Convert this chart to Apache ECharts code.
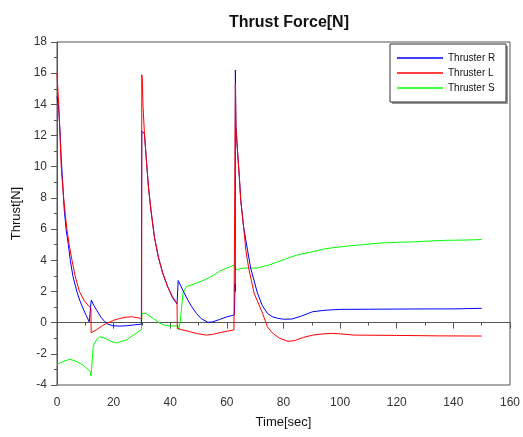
<!DOCTYPE html>
<html>
<head>
<meta charset="utf-8">
<script src="https://cdn.jsdelivr.net/npm/echarts@6/dist/echarts.min.js"></script>
<style>
  html, body { margin: 0; padding: 0; background: #fff; }
  #main { width: 523px; height: 437px; }
</style>
</head>
<body>
<div id="main"></div>
<script>
// time [sec] / thrust [N] samples
var tR = [0, 0.5, 1.1, 1.5, 2, 2.5, 3.2, 4, 4.7, 5.6, 7, 8, 9, 10.2, 11.4, 11.8, 12.1, 13, 14, 15.5, 16.9, 18, 19.8, 22, 24.6, 27, 29.8, 29.9,
          29.95, 30.9, 31.5, 32.3, 33.2, 34.4, 35.8, 37.3, 39.1, 40.8, 42.4, 42.6, 42.8, 44.4, 46.2, 47.5, 49.2, 51, 53.3, 55, 57.4, 60, 62.7, 62.8, 62.85, 62.95,
          63, 63.2, 63.8, 64.4, 64.9, 65.9, 67.3, 68.4, 70.8, 72.5, 74.3, 76, 77.9, 80, 82.9, 86, 90.3, 95, 100, 110, 120, 130, 140, 145, 150];
var fR = [14.5, 14, 12.2, 10.5, 9, 7.4, 6, 5, 4, 3, 2, 1.45, 1, 0.5, 0.05, 0, 1.45, 1.1, 0.8, 0.35, 0.06, -0.1, -0.2, -0.22, -0.2, -0.15, -0.1, -0.1,
          12.3, 12.1, 10.6, 8.7, 7.2, 5.5, 4.2, 3.2, 2.3, 1.6, 1.2, 1.2, 2.7, 2.1, 1.45, 1.05, 0.6, 0.25, 0.02, 0.05, 0.2, 0.37, 0.5, 0.5, 2.5, 2.0,
          16.2, 12.6, 10.9, 9.35, 7.86, 6.15, 4.65, 3.5, 1.9, 1.1, 0.6, 0.38, 0.28, 0.22, 0.23, 0.4, 0.7, 0.8, 0.85, 0.86, 0.87, 0.88, 0.88, 0.9, 0.92];

var tL = [0, 0.35, 0.6, 1.06, 1.5, 1.9, 2.35, 2.9, 3.5, 4.3, 5.3, 6.4, 7.9, 9.5, 11.2, 12, 12.05, 14, 16, 17.5, 20, 22.2, 24, 26.3, 28, 29.9,
          29.95, 30.1, 30.4, 30.9, 31.5, 32.3, 33.2, 34.4, 35.8, 37.3, 39.1, 40.8, 42.4, 42.5, 44, 46.9, 50, 52.8, 55, 57.4, 60, 62.5, 62.9,
          63, 63.2, 63.8, 64.4, 64.9, 65.9, 66.7, 67.7, 69.6, 72.6, 74.3, 76, 78.6, 81.6, 84, 87, 90.3, 94, 97.4, 100, 105, 120, 135, 150];
var fL = [16, 16, 14, 12, 10, 9, 8, 7, 6, 5, 4, 3, 2, 1.45, 1.05, 0.95, -0.65, -0.45, -0.2, -0.05, 0.15, 0.27, 0.34, 0.38, 0.33, 0.27,
          15.9, 15.7, 13.8, 12.1, 10.6, 8.7, 7.2, 5.5, 4.2, 3.2, 2.3, 1.66, 1.24, -0.37, -0.45, -0.58, -0.72, -0.8, -0.75, -0.65, -0.55, -0.47, -0.45,
          15.3, 12.6, 10.9, 9.35, 7.86, 6.15, 4.65, 3.5, 1.9, 0.6, -0.26, -0.65, -1.0, -1.2, -1.15, -0.95, -0.8, -0.72, -0.69, -0.72, -0.8, -0.82, -0.85, -0.86];

var tS = [0, 2, 4.6, 7, 9, 11.6, 12, 12.2, 12.8, 14, 15.1, 17, 19, 21, 23, 24.6, 27, 29.8, 30, 31.5, 34, 36, 37.5, 40, 42.7, 43, 43.5,
          44.5, 45.7, 48, 51.6, 55, 57.4, 60, 62.7, 63.3, 66, 68, 70.4, 75, 81, 85, 90.3, 95, 102, 108, 113.8, 120, 125.6, 130, 137.3, 145, 150];
var fS = [-2.7, -2.5, -2.35, -2.5, -2.7, -3.1, -3.4, -3.0, -1.5, -1.1, -0.9, -1.0, -1.2, -1.3, -1.2, -1.1, -0.8, -0.45, 0.6, 0.58, 0.27, 0, -0.15, -0.22, -0.2, -0.45, 0,
          1.9, 2.3, 2.45, 2.7, 3.0, 3.3, 3.5, 3.7, 3.4, 3.5, 3.5, 3.5, 3.7, 4.1, 4.35, 4.55, 4.75, 4.9, 5.0, 5.1, 5.15, 5.18, 5.22, 5.28, 5.3, 5.33];

var seriesNames = ['Thruster R', 'Thruster L', 'Thruster S'];
var seriesColors = ['#0000ff', '#ff0000', '#00ff00'];

function pairs(t, f) {
    return t.map(function (v, i) { return [v, f[i]]; });
}

var myChart = echarts.init(document.getElementById('main'));

var axisCommon = {
    axisLine: { show: true, lineStyle: { color: '#555', width: 1 } },
    axisTick: { show: true, length: 6, lineStyle: { color: '#555' } },
    minorTick: { show: true, splitNumber: 2, length: 3, lineStyle: { color: '#555' } },
    splitLine: { show: false },
    axisLabel: { color: '#333', fontSize: 12, fontFamily: 'Liberation Sans' },
    nameTextStyle: { color: '#111', fontSize: 13, fontFamily: 'Liberation Sans' }
};

option = {
    animation: false,
    backgroundColor: '#fff',
    title: {
        text: 'Thrust Force[N]',
        left: 284,
        textAlign: 'center',
        top: 10,
        textStyle: { fontSize: 16, fontWeight: 'bold', color: '#111', fontFamily: 'Liberation Sans' }
    },
    // legend frame with its drop shadow
    graphic: [
        { type: 'rect', z: 90, shape: { x: 392, y: 46, width: 116, height: 58 }, style: { fill: '#999' } },
        { type: 'rect', z: 91, shape: { x: 390, y: 44, width: 116, height: 58 }, style: { fill: '#fff', stroke: '#333', lineWidth: 1 } }
    ],
    legend: {
        orient: 'vertical',
        left: 390,
        top: 44,
        z: 100,
        padding: [8, 8, 8, 7],
        itemWidth: 46,
        itemHeight: 1.5,
        itemGap: 3,
        icon: 'rect',
        textStyle: { fontSize: 10, lineHeight: 12, color: '#111', fontFamily: 'Liberation Sans' },
        data: seriesNames
    },
    grid: {
        left: 57, right: 12, top: 42, bottom: 52,
        show: true, borderColor: '#555', borderWidth: 1
    },
    xAxis: Object.assign({}, axisCommon, {
        type: 'value',
        min: 0, max: 160, interval: 20,
        name: 'Time[sec]',
        nameLocation: 'middle',
        nameGap: 31,
        axisLabel: Object.assign({}, axisCommon.axisLabel, { margin: 12 })
    }),
    yAxis: Object.assign({}, axisCommon, {
        type: 'value',
        min: -4, max: 18, interval: 2,
        name: 'Thrust[N]',
        nameLocation: 'middle',
        nameGap: 29,
        axisLabel: Object.assign({}, axisCommon.axisLabel, { margin: 10 })
    }),
    series: seriesNames.map(function (name, k) {
        var data = [pairs(tR, fR), pairs(tL, fL), pairs(tS, fS)][k];
        return {
            name: name,
            type: 'line',
            data: data,
            symbol: 'none',
            color: seriesColors[k],
            lineStyle: { width: 1, color: seriesColors[k] },
            z: [3, 4, 2][k]
        };
    })
};

myChart.setOption(option);
</script>
</body>
</html>
